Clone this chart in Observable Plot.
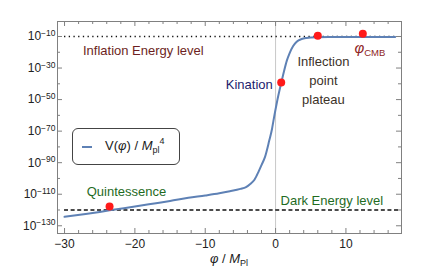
<!DOCTYPE html>
<html>
<head>
<meta charset="utf-8">
<script src="https://cdn.jsdelivr.net/npm/d3@7"></script>
<script src="https://cdn.jsdelivr.net/npm/@observablehq/plot@0.6"></script>
<style>
  html, body { margin: 0; padding: 0; background: #fff; }
  #wrap { position: relative; width: 426px; height: 273px; font-family: "Liberation Sans", Arial, sans-serif; }
  #legend { position: absolute; left: 72px; top: 128px; width: 106px; height: 35px; border: 1px solid #444; border-radius: 6px; background: #fff; }
  #legend .swatch { position: absolute; left: 9px; top: 17px; width: 10px; border-top: 2px solid #5E81B5; }
  #legend .lbl { position: absolute; left: 32px; top: 9px; font-size: 13px; color: #222; white-space: nowrap; }
  .sub { font-size: 9px; position: relative; top: 3px; }
  .sup { font-size: 9px; position: relative; top: -6px; }
  #xlabel { position: absolute; left: 229px; top: 251px; transform: translateX(-50%); font-size: 13px; color: #222; white-space: nowrap; }
</style>
</head>
<body>
<div id="wrap"></div>
<script>
// Potential curve: field value phi (in M_Pl) and log10 of V/M_pl^4
const phi  = [-30, -27, -25, -23.6, -20, -17, -15, -12.4, -10, -8, -6.5, -5, -4.2, -3.6, -3, -2.4, -2, -1.5, -0.9, -0.5, -0.3, 0.2, 0.8, 1.2, 1.6, 2.0, 2.5, 3.0, 3.7, 4.4, 5, 6, 8, 10, 13, 17];
const logV = [-124.3, -122.5, -121.2, -120.2, -117.8, -115.7, -114.3, -112.3, -110.8, -109.4, -108.1, -106.6, -105.5, -103.5, -100.8, -95.5, -91.5, -86.3, -76, -68.5, -63.3, -51.5, -39.5, -32, -25.3, -20.5, -16, -13.3, -11.6, -10.9, -10.6, -10.45, -10.35, -10.3, -10.25, -10.25];
// Highlighted points (Quintessence, Kination, Inflection plateau, phi_CMB)
const dotPhi  = [-23.6, 0.8, 6.0, 12.4];
const dotLogV = [-117.8, -39.2, -9.6, -8.3];
// Reference energy levels (log10)
const inflationLevel = -10;
const darkEnergyLevel = -120;
// Axis ticks
const xMajor = [-30, -20, -10, 0, 10];
const xMinor = [-28, -26, -24, -22, -18, -16, -14, -12, -8, -6, -4, -2, 2, 4, 6, 8, 12, 14, 16];
const yMajorExp = [-10, -30, -50, -70, -90, -110, -130];
const yMinorExp = [-20, -40, -60, -80, -100, -120];

const curve = phi.map((p, i) => ({phi: p, V: Math.pow(10, logV[i])}));
const dots = dotPhi.map((p, i) => ({phi: p, V: Math.pow(10, dotLogV[i])}));
const yMajor = yMajorExp.map(e => Math.pow(10, e));
const yMinor = yMinorExp.map(e => Math.pow(10, e));

const W = 426, H = 273, mL = 57, mR = 25, mT = 21, mB = 40;
const fw = W - mL - mR, fh = H - mT - mB;
const minus = s => String(s).replace("-", "\u2212");
const frameC = "#808080";
const font = "Liberation Sans, Arial, sans-serif";

const chart = Plot.plot({
  width: W, height: H,
  marginLeft: mL, marginRight: mR, marginTop: mT, marginBottom: mB,
  style: {fontFamily: font, fontSize: "12px", color: "#222", background: "#fff"},
  x: {domain: [-31, 17.9], ticks: xMajor, tickSize: 0, tickPadding: 6, tickFormat: d => minus(d), label: null},
  y: {type: "log", domain: [Math.pow(10, -134.9), Math.pow(10, -0.5)], ticks: yMajor, tickSize: 0, tickPadding: 2,
      tickFormat: d => "10^" + minus(Math.round(Math.log10(d))), label: null},
  marks: [
    Plot.ruleX([0], {stroke: "#c8c8c8", strokeWidth: 1}),
    Plot.ruleY([Math.pow(10, inflationLevel)], {x1: -30, x2: 17.3, stroke: "#111", strokeWidth: 1.4, strokeDasharray: "1.3,3.4"}),
    Plot.ruleY([Math.pow(10, darkEnergyLevel)], {x1: -30, x2: 17.6, stroke: "#111", strokeWidth: 1.4, strokeDasharray: "4,2.6"}),
    Plot.line(curve, {x: "phi", y: "V", stroke: "#5E81B5", strokeWidth: 2, curve: "monotone-x"}),
    Plot.dot(dots, {x: "phi", y: "V", r: 4, fill: "#ff1a1a", stroke: "none"}),
    // frame ticks
    Plot.ruleX(xMajor, {insetTop: fh - 5, stroke: frameC}),
    Plot.ruleX(xMinor, {insetTop: fh - 3, stroke: frameC}),
    Plot.ruleX(xMajor, {insetBottom: fh - 5, stroke: frameC}),
    Plot.ruleX(xMinor, {insetBottom: fh - 3, stroke: frameC}),
    Plot.ruleY(yMajor, {insetRight: fw - 5, stroke: frameC}),
    Plot.ruleY(yMinor, {insetRight: fw - 3, stroke: frameC}),
    Plot.ruleY(yMajor, {insetLeft: fw - 5, stroke: frameC}),
    Plot.ruleY(yMinor, {insetLeft: fw - 3, stroke: frameC}),
    Plot.frame({stroke: frameC}),
    // annotations
    Plot.text(["Inflation Energy level"], {x: -18.8, y: Math.pow(10, -19.1), text: d => d, fill: "#6d1f22", fontSize: 13, textAnchor: "middle"}),
    Plot.text(["Kination"], {x: -0.4, y: Math.pow(10, -40.6), text: d => d, fill: "#1c1c6e", fontSize: 13, textAnchor: "end"}),
    Plot.text(["Inflection\npoint\nplateau"], {x: 6.8, y: Math.pow(10, -37), text: d => d, fill: "#3c3228", fontSize: 13, lineHeight: 1.45, textAnchor: "middle"}),
    Plot.text(["PHICMB"], {x: 13.4, y: Math.pow(10, -18), text: d => d, fill: "#8e2525", fontSize: 13, textAnchor: "middle"}),
    Plot.text(["Quintessence"], {x: -21.2, y: Math.pow(10, -108.4), text: d => d, fill: "#1f6b1f", fontSize: 13, textAnchor: "middle"}),
    Plot.text(["Dark Energy level"], {x: 8.0, y: Math.pow(10, -114.2), text: d => d, fill: "#1f6b1f", fontSize: 13, textAnchor: "middle"})
  ]
});

const ns = "http://www.w3.org/2000/svg";
chart.querySelectorAll("text").forEach(t => {
  const m = t.textContent.match(/^10\^(.+)$/);
  if (m) {
    t.textContent = "10";
    const ts = document.createElementNS(ns, "tspan");
    ts.setAttribute("dy", "-0.5em");
    ts.setAttribute("font-size", "8.5");
    ts.textContent = m[1];
    t.appendChild(ts);
  } else if (t.textContent === "PHICMB") {
    t.textContent = "";
    const a = document.createElementNS(ns, "tspan");
    a.setAttribute("font-style", "italic");
    a.setAttribute("font-size", "15");
    a.textContent = "\u03C6";
    const b = document.createElementNS(ns, "tspan");
    b.setAttribute("font-size", "9.5");
    b.setAttribute("dy", "0.3em");
    b.textContent = "CMB";
    t.appendChild(a); t.appendChild(b);
  }
});

const wrap = document.getElementById("wrap");
wrap.appendChild(chart);
const legend = document.createElement("div");
legend.id = "legend";
legend.innerHTML = '<div class="swatch"></div><div class="lbl">V(<i>\u03C6</i>) / <i>M</i><span class="sub">pl</span><span class="sup">4</span></div>';
wrap.appendChild(legend);
const xl = document.createElement("div");
xl.id = "xlabel";
xl.innerHTML = '<i>\u03C6</i> / <i>M</i><span class="sub">Pl</span>';
wrap.appendChild(xl);
</script>
</body>
</html>
